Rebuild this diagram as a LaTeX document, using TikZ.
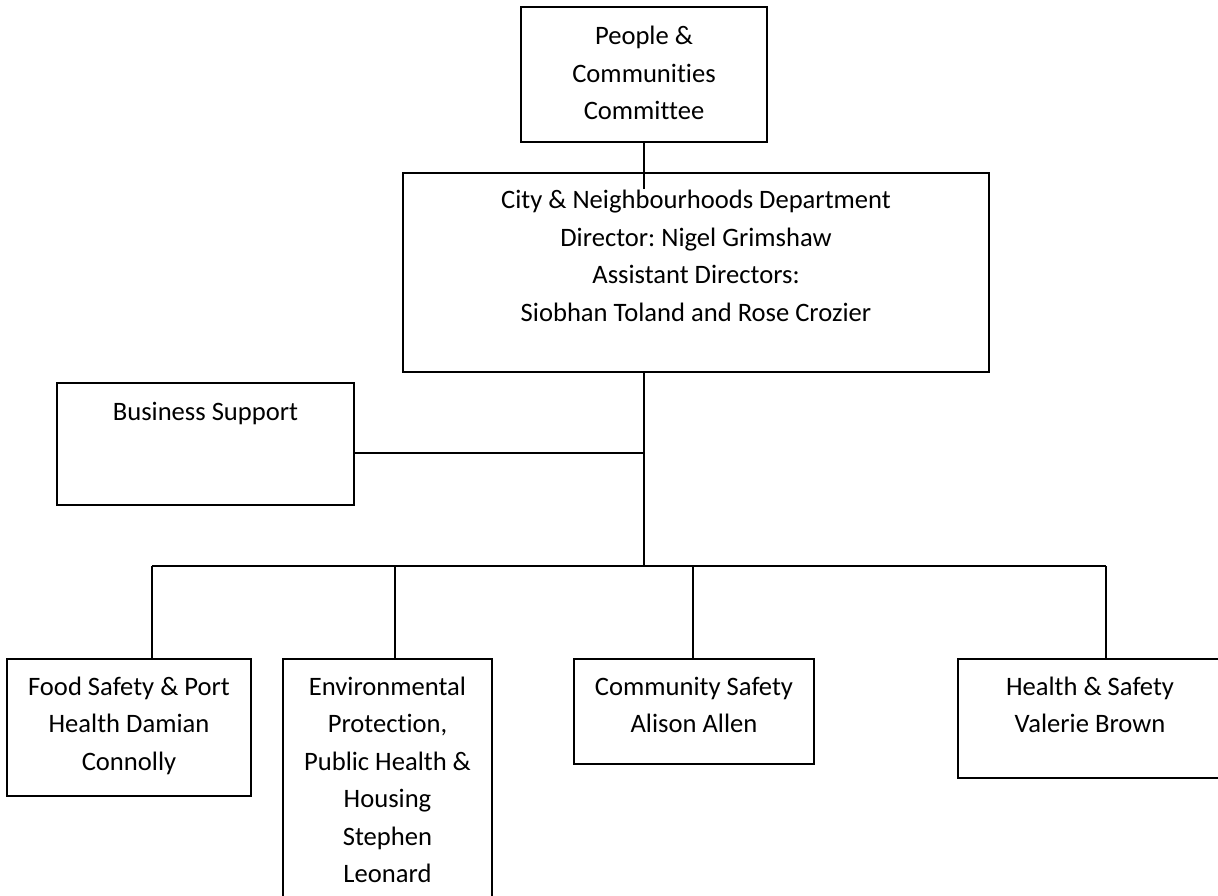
\documentclass[tikz,border=0pt]{standalone}
\usepackage{fontspec}
\setmainfont{Carlito}[Ligatures=CommonOff]
\usetikzlibrary{positioning}
\frenchspacing

\tikzset{
  unit/.style={draw, line width=1pt, inner sep=0pt},
  txt/.style={align=center, inner sep=0pt,
    font=\fontsize{13.3}{18.7}\selectfont},
  link/.style={line width=0.8pt}
}

\begin{document}
\begin{tikzpicture}[x=0.5pt, y=-0.5pt]
\useasboundingbox (0,0) rectangle (1218,895);

\def\yb{566};

% boxes
\node[unit, minimum width=123pt, minimum height=67.5pt] (people) at (644, 74.5) {};
\node[unit, minimum width=293pt, minimum height=99.5pt] (city) at (696, 272.5) {};
\node[unit, minimum width=148.5pt, minimum height=61pt] (business) at (205.5, 444) {};
\node[unit, minimum width=122pt, minimum height=68.5pt] (food) at (129, 727.5) {};
\node[unit, minimum width=104.5pt, minimum height=123pt] (env) at (387.5, 782) {};
\node[unit, minimum width=120pt, minimum height=52.5pt] (comm) at (694, 711.5) {};
\node[unit, minimum width=132pt, minimum height=59.5pt] (health) at (1090, 718.5) {};

% texts
\node[txt, below=10pt of people.north] {People \&\\Communities\\Committee};
\node[txt, below=9pt of city.north] {City \& Neighbourhoods Department\\Director: Nigel Grimshaw\\Assistant Directors:\\Siobhan Toland and Rose Crozier};
\node[txt, below=10pt of business.north] {Business Support};
\node[txt, below=9.3pt of food.north] {Food Safety \& Port\\Health Damian\\Connolly};
\node[txt, below=9.3pt of env.north] {Environmental\\Protection,\\Public Health \&\\Housing\\Stephen\\Leonard};
\node[txt, below=9.3pt of comm.north] {Community Safety\\Alison Allen};
\node[txt, below=9.3pt of health.north] {Health \& Safety\\Valerie Brown};

% joints
\coordinate (pc) at (644, 189);
\coordinate (split) at (644, \yb);
\coordinate (bj) at (644, 453);
\coordinate (d1) at (152, \yb);
\coordinate (d2) at (395, \yb);
\coordinate (d3) at (693, \yb);
\coordinate (d4) at (1106, \yb);

\draw[link] (people.south) -- (pc);
\draw[link] (split |- city.south) -- (split);
\draw[link] (bj -| business.east) -- (bj);
\draw[link] (d1) -- (d4);
\draw[link] (d1) -- (d1 |- food.north);
\draw[link] (d2) -- (d2 |- env.north);
\draw[link] (d3) -- (d3 |- comm.north);
\draw[link] (d4) -- (d4 |- health.north);
\end{tikzpicture}
\end{document}
